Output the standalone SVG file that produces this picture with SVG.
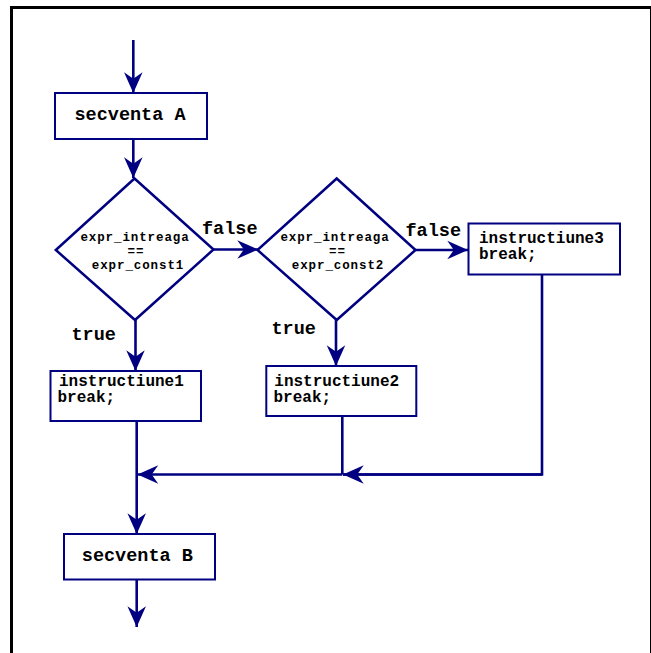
<svg xmlns="http://www.w3.org/2000/svg" width="651" height="653" viewBox="0 0 651 653">
  <defs>
    <marker id="arrow" markerUnits="userSpaceOnUse" markerWidth="24" markerHeight="24" refX="0" refY="0" viewBox="-20 -10 22 20" orient="auto" overflow="visible">
      <path d="M0,0 L-19,-8.5 L-13,0 L-19,8.5 Z" fill="#000080"/>
    </marker>
  </defs>
  <style>
    .frame { fill: none; stroke: #000; stroke-width: 3; }
    .box { fill: #fff; stroke: #000080; stroke-width: 2; }
    .dia { fill: #fff; stroke: #000080; stroke-width: 2.5; }
    .line { fill: none; stroke: #000080; stroke-width: 2.6; marker-end: url(#arrow); }
    .plain { fill: none; stroke: #000080; stroke-width: 2.6; }
    text { font-family: "Liberation Mono", "Courier New", monospace; font-weight: bold; fill: #000; }
    .big { font-size: 18.5px; }
    .mid { font-size: 16px; }
    .small { font-size: 12.5px; letter-spacing: 0.9px; }
    .lbl { font-size: 18.5px; }
  </style>

  <rect class="frame" x="11.5" y="7.5" width="640" height="660"/>

  <!-- connectors -->
  <g id="connectors">
    <path class="line" d="M133.3,40 V93"/>
    <path class="line" d="M133.3,139 V178"/>
    <path class="line" d="M213.5,249.5 H258"/>
    <path class="line" d="M415.5,250 H468"/>
    <path class="line" d="M135.5,320 V371"/>
    <path class="line" d="M336,320 V366"/>
    <path class="plain" d="M542,274 V474.5 H343"/>
    <path class="line" d="M542,474.5 H343"/>
    <path class="plain" d="M342.3,416 V474.5"/>
    <path class="line" d="M342.3,474.5 H137.5"/>
    <path class="line" d="M136.7,421 V534"/>
    <path class="line" d="M136.7,579 V627"/>
    <text class="lbl" x="202" y="234">false</text>
    <text class="lbl" x="405.5" y="236">false</text>
    <text class="lbl" x="71.5" y="339.5">true</text>
    <text class="lbl" x="271.5" y="333.5">true</text>
  </g>

  <g id="secventaA">
    <rect class="box" x="55" y="93" width="152" height="46"/>
    <text class="big" x="130" y="119.5" text-anchor="middle">secventa A</text>
  </g>

  <g id="cond1">
    <polygon class="dia" points="134.5,178.5 213.5,249.5 135,320 55.8,250"/>
    <text class="small" x="135" y="240.7" text-anchor="middle">expr_intreaga</text>
    <text class="small" x="136" y="255" text-anchor="middle">==</text>
    <text class="small" x="138" y="269.3" text-anchor="middle">expr_const1</text>
  </g>

  <g id="cond2">
    <polygon class="dia" points="336.7,178.5 415.5,250 336.7,320 257.5,250"/>
    <text class="small" x="335" y="240.7" text-anchor="middle">expr_intreaga</text>
    <text class="small" x="337.5" y="255" text-anchor="middle">==</text>
    <text class="small" x="338" y="269.3" text-anchor="middle">expr_const2</text>
  </g>

  <g id="instr3">
    <rect class="box" x="468.5" y="223.5" width="151.5" height="51"/>
    <text class="mid" x="479" y="242.7">instructiune3</text>
    <text class="mid" x="479" y="259.3">break;</text>
  </g>

  <g id="instr1">
    <rect class="box" x="50.5" y="371" width="150.5" height="50"/>
    <text class="mid" x="59" y="385.7">instructiune1</text>
    <text class="mid" x="57.5" y="402.3">break;</text>
  </g>

  <g id="instr2">
    <rect class="box" x="266.3" y="366" width="150" height="50"/>
    <text class="mid" x="274.3" y="385.7">instructiune2</text>
    <text class="mid" x="273.5" y="402.3">break;</text>
  </g>

  <g id="secventaB">
    <rect class="box" x="64" y="534" width="151" height="45.5"/>
    <text class="big" x="137.3" y="560.7" text-anchor="middle">secventa B</text>
  </g>
</svg>
